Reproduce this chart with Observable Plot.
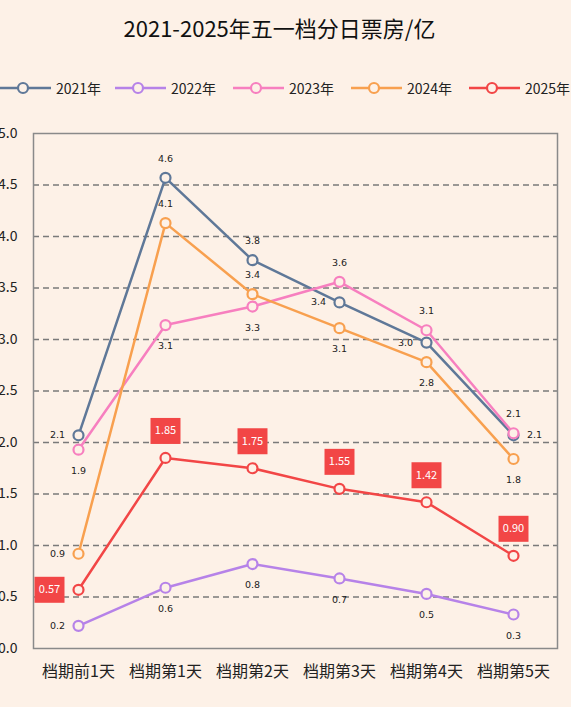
<!DOCTYPE html>
<html>
<head>
<meta charset="utf-8">
<script src="https://cdn.jsdelivr.net/npm/d3@7"></script>
<script src="https://cdn.jsdelivr.net/npm/@observablehq/plot@0.6"></script>
<style>
  html, body { margin: 0; padding: 0; background: #fdf1e7; }
  body { width: 571px; height: 707px; position: relative; overflow: hidden; font-family: "Noto Sans CJK SC", "Noto Sans", sans-serif; }
  #title { position: absolute; left: 0; top: 11px; width: 559px; text-align: center; font-size: 22px; color: #111; }
  #legend { position: absolute; left: 0; top: 78px; width: 700px; height: 20px; }
  .item { position: absolute; top: 0; height: 20px; display: flex; align-items: center; font-size: 14px; color: #222; }
  .item svg { margin-right: 5px; }
  #chart { position: absolute; left: 0; top: 113px; }
</style>
</head>
<body>
<div id="title">2021-2025年五一档分日票房/亿</div>
<div id="legend"></div>
<div id="chart"></div>
<script>
const days = ["档期前1天", "档期第1天", "档期第2天", "档期第3天", "档期第4天", "档期第5天"];
const seriesNames = ["2021年", "2022年", "2023年", "2024年", "2025年"];
const v2021 = [2.07, 4.57, 3.77, 3.36, 2.97, 2.07];
const v2022 = [0.22, 0.59, 0.82, 0.68, 0.53, 0.33];
const v2023 = [1.93, 3.14, 3.32, 3.56, 3.09, 2.09];
const v2024 = [0.92, 4.13, 3.44, 3.11, 2.78, 1.84];
const v2025 = [0.57, 1.85, 1.75, 1.55, 1.42, 0.90];
const yTicks = [0, 0.5, 1, 1.5, 2, 2.5, 3, 3.5, 4, 4.5, 5];

const colors = ["#5f7898", "#b682e8", "#f77fbf", "#f8a04f", "#f24646"];
// label placement per series (a = above, b = below, l = left, r = right)
const placement = [
  ["l", "a", "a", "l", "l", "r"],
  ["l", "b", "b", "b", "b", "b"],
  ["b", "b", "b", "a", "a", "a"],
  ["l", "a", "a", "b", "b", "b"],
  ["l", "a", "a", "a", "a", "a"]
];
const allValues = [v2021, v2022, v2023, v2024, v2025];

const rows = [];
allValues.forEach((vals, si) => {
  vals.forEach((v, i) => rows.push({series: seriesNames[si], si, day: days[i], value: v, pos: placement[si][i]}));
});

const bg = "#fdf1e7";
const off = {a: [0, -19], b: [0, 21], l: [-21, 0], r: [21, 0]};
const boxOff = {a: [0, -27], l: [-29, 0]};
const boxSymbol = {draw(ctx) { ctx.rect(-15, -13, 30, 26); }};

const marks = [
  Plot.ruleY(yTicks.filter(t => t > 0 && t < 5), {stroke: "#7a7a7a", strokeWidth: 1.3, strokeDasharray: "6,4"}),
  Plot.frame({stroke: "#8a8a8a", strokeWidth: 1.5})
];
seriesNames.forEach((name, si) => {
  const d = rows.filter(r => r.si === si);
  marks.push(Plot.line(d, {x: "day", y: "value", stroke: colors[si], strokeWidth: 2.5}));
  marks.push(Plot.dot(d, {x: "day", y: "value", r: 5, stroke: colors[si], strokeWidth: 2.2, fill: bg}));
});
// plain labels for 2021-2024
["a", "b", "l", "r"].forEach(p => {
  const d = rows.filter(r => r.si < 4 && r.pos === p);
  marks.push(Plot.text(d, {x: "day", y: "value", text: r => d3.format(".1f")(r.value), dx: off[p][0], dy: off[p][1], fontSize: 9.5, fontFamily: "DejaVu Sans", fill: "#222"}));
});
// boxed labels for 2025
["a", "l"].forEach(p => {
  const d = rows.filter(r => r.si === 4 && r.pos === p);
  marks.push(Plot.dot(d, {x: "day", y: "value", symbol: boxSymbol, r: 10, fill: "#f24646", stroke: "none", dx: boxOff[p][0], dy: boxOff[p][1]}));
  marks.push(Plot.text(d, {x: "day", y: "value", text: r => d3.format(".2f")(r.value), dx: boxOff[p][0], dy: boxOff[p][1], fontSize: 11, fill: "#fff"}));
});

const chart = Plot.plot({
  width: 571,
  height: 594,
  marginTop: 20,
  marginBottom: 59,
  marginLeft: 33,
  marginRight: 14,
  style: {background: "transparent", fontFamily: "'Noto Sans CJK SC', 'Noto Sans', sans-serif", color: "#222", overflow: "visible"},
  x: {type: "point", domain: days, padding: 0.5, label: null},
  y: {domain: [0, 5], label: null},
  marks: [
    ...marks,
    Plot.axisX({tickSize: 0, tickPadding: 17, fontSize: 16, label: null}),
    Plot.axisY({ticks: yTicks, tickFormat: d3.format(".1f"), tickSize: 0, tickPadding: 16, fontSize: 14, label: null})
  ]
});
document.getElementById("chart").appendChild(chart);

// legend
const legend = document.getElementById("legend");
const lefts = [0, 115, 233, 351, 469];
seriesNames.forEach((name, si) => {
  const it = document.createElement("div");
  it.className = "item";
  it.style.left = lefts[si] + "px";
  it.innerHTML = `<svg width="51" height="14"><line x1="0" y1="7" x2="51" y2="7" stroke="${colors[si]}" stroke-width="2.5"/><circle cx="23" cy="7" r="5" fill="${bg}" stroke="${colors[si]}" stroke-width="2.2"/></svg><span>${name}</span>`;
  legend.appendChild(it);
});
</script>
</body>
</html>
